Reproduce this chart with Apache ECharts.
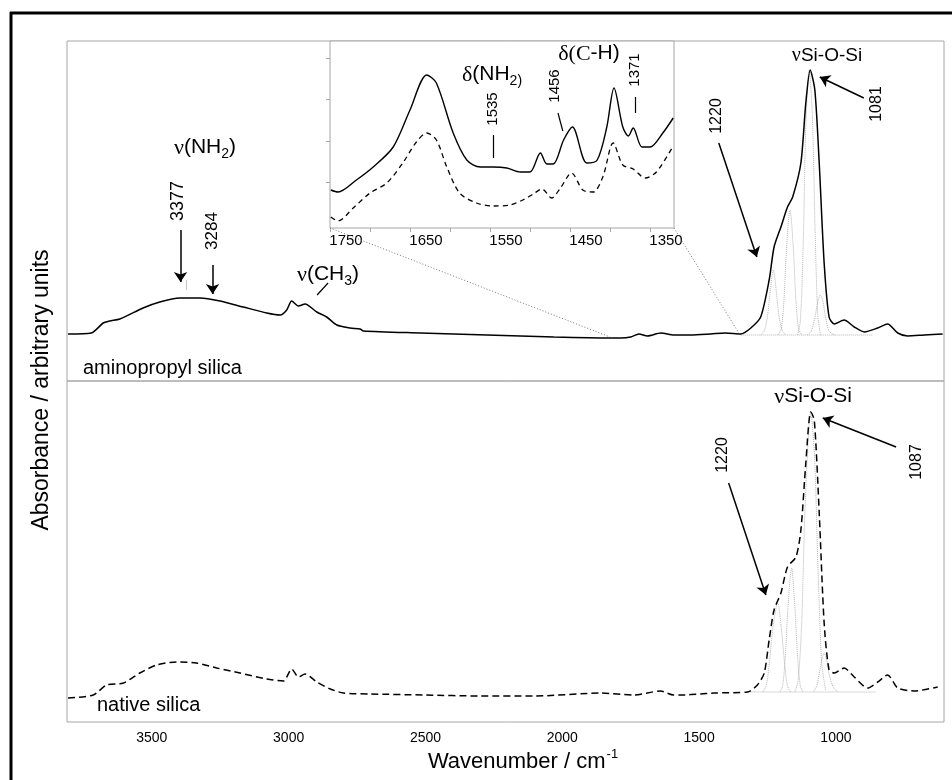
<!DOCTYPE html>
<html>
<head>
    <meta charset="utf-8">
    <title>FTIR aminopropyl silica vs native silica</title>
    <script src="https://cdn.jsdelivr.net/npm/echarts@6/dist/echarts.min.js"></script>
    <style>
        html, body { margin: 0; padding: 0; background: #fff; }
    </style>
</head>
<body>
    <div id="chart" style="width: 952px;height:780px;"></div>
    <script type="text/javascript">
        // wavenumber ticks
        var mainTicks = [1000, 1500, 2000, 2500, 3000, 3500];
        var insetLabels = [1350, 1450, 1550, 1650, 1750];
        var insetTicks = [1370, 1420, 1470, 1520, 1570, 1620, 1670, 1720, 1770];
        var insetYTicks = [46, 87, 129, 170];

        // aminopropyl silica, [wavenumber, absorbance (arb.)]
        var aminoSpectrum = [
            [3806, 47], [3721, 48], [3678, 58], [3654, 60], [3617, 62], [3532, 73], [3471, 79],
            [3398, 83], [3324, 83], [3251, 80], [3166, 74], [3080, 68], [3031, 66], [3007, 71],
            [2989, 80], [2964, 75], [2940, 77], [2897, 69], [2861, 64], [2824, 56], [2775, 53],
            [2739, 52], [2727, 50], [2519, 48], [2275, 46], [2031, 44], [1824, 43], [1787, 43],
            [1750, 44], [1720, 47], [1689, 45], [1640, 48], [1592, 46], [1531, 46], [1458, 47],
            [1403, 48], [1348, 47], [1311, 53], [1275, 64], [1244, 101], [1226, 134], [1201, 154],
            [1177, 174], [1158, 184], [1128, 218], [1110, 278], [1094, 311], [1077, 291],
            [1061, 218], [1043, 118], [1025, 64], [1006, 57], [970, 61], [933, 54], [896, 49],
            [847, 53], [811, 57], [774, 48], [738, 45], [677, 46], [610, 47]
        ];

        // native silica
        var nativeSpectrum = [
            [3806, 24], [3714, 27], [3665, 37], [3604, 39], [3544, 49], [3483, 57], [3410, 60],
            [3337, 59], [3263, 54], [3178, 49], [3080, 43], [3019, 41], [2989, 53], [2964, 45],
            [2940, 48], [2897, 40], [2848, 33], [2800, 29], [2700, 28], [2500, 27], [2300, 26],
            [2100, 26], [1860, 29], [1739, 27], [1641, 31], [1593, 27], [1567, 27], [1494, 28],
            [1446, 29], [1323, 30], [1287, 37], [1262, 49], [1244, 82], [1226, 112], [1201, 129],
            [1177, 155], [1146, 165], [1128, 192], [1110, 259], [1092, 310], [1079, 302],
            [1061, 209], [1043, 99], [1025, 52], [1006, 49], [970, 54], [933, 45], [884, 34],
            [847, 40], [811, 47], [774, 34], [713, 31], [628, 35]
        ];

        // fitted Si-O-Si components (dotted)
        var aminoBand1 = [[1275, 46], [1262, 50], [1250, 65], [1240, 90], [1229, 111], [1218, 90], [1208, 65], [1196, 50], [1183, 46]];
        var aminoBand2 = [[1212, 46], [1200, 52], [1190, 80], [1180, 135], [1168, 171], [1156, 135], [1146, 80], [1136, 52], [1124, 46]];
        var aminoBand3 = [[1140, 46], [1130, 60], [1120, 130], [1110, 255], [1098, 311], [1086, 265], [1076, 150], [1066, 65], [1056, 46]];
        var aminoBand4 = [[1105, 46], [1090, 50], [1075, 66], [1066, 80], [1057, 86], [1048, 80], [1038, 64], [1025, 50], [1005, 46]];
        var aminoBase = [[1348, 46], [865, 46]];

        var nativeBand1 = [[1268, 30], [1255, 36], [1243, 60], [1230, 95], [1213, 119], [1200, 95], [1188, 60], [1177, 36], [1166, 30]];
        var nativeBand2 = [[1205, 30], [1195, 36], [1185, 65], [1175, 115], [1162, 154], [1150, 115], [1140, 65], [1130, 36], [1120, 30]];
        var nativeBand3 = [[1150, 30], [1138, 42], [1125, 100], [1112, 220], [1092, 309], [1078, 265], [1065, 150], [1052, 60], [1038, 32]];
        var nativeBand4 = [[1082, 30], [1070, 36], [1060, 50], [1050, 64], [1043, 69], [1035, 64], [1025, 48], [1010, 35], [994, 30]];
        var nativeBase = [[1323, 30], [854, 30]];

        // inset 1770-1340 cm-1
        var insetAmino = [
            [1769, 38], [1760, 36], [1737, 48], [1716, 61], [1691, 81], [1670, 118], [1649, 153],
            [1637, 145], [1616, 95], [1599, 68], [1582, 61], [1566, 61], [1549, 60], [1532, 56],
            [1520, 56], [1507, 75], [1499, 64], [1491, 64], [1478, 88], [1467, 101], [1449, 65],
            [1436, 68], [1424, 101], [1415, 140], [1404, 101], [1397, 92], [1391, 100], [1380, 81],
            [1370, 81], [1354, 95], [1341, 110]
        ];
        var insetNative = [
            [1769, 11], [1760, 7], [1741, 20], [1720, 35], [1699, 45], [1679, 65], [1662, 86],
            [1649, 95], [1637, 88], [1624, 61], [1608, 35], [1587, 25], [1566, 22], [1545, 23],
            [1529, 28], [1516, 34], [1505, 39], [1493, 30], [1482, 40], [1468, 55], [1454, 38],
            [1441, 36], [1429, 51], [1416, 85], [1404, 63], [1391, 59], [1376, 50], [1362, 56],
            [1341, 82]
        ];

        var chart = echarts.init(document.getElementById('chart'));

        var sans = 'Liberation Sans';
        var serif = 'Liberation Serif';
        var frame = '#a6a6a6';
        var dotted = '#b4b4b4';

        function arrow(a, b) {
            return [{ coord: a }, { coord: b }];
        }
        function tick(a, b, color) {
            return [
                { coord: a, symbol: 'none', lineStyle: { color: color || '#000', width: 1.2, type: 'solid' } },
                { coord: b, symbol: 'none' }
            ];
        }
        function band(data, xi) {
            return {
                type: 'line', xAxisIndex: xi, yAxisIndex: xi, data: data, symbol: 'none',
                smooth: 0.3, silent: true, z: 1,
                lineStyle: { color: dotted, width: 1, type: [1, 1] }
            };
        }
        function vtext(x, y, t, size) {
            return {
                type: 'text', x: x, y: y, rotation: Math.PI / 2, z: 100,
                style: { text: t, fontFamily: sans, fontSize: size, fill: '#000', align: 'center', verticalAlign: 'middle' }
            };
        }
        function label(x, y, t, size, rich) {
            return {
                type: 'text', x: x, y: y, z: 100,
                style: { text: t, fontFamily: sans, fontSize: size, fill: '#000', align: 'center', verticalAlign: 'middle', rich: rich }
            };
        }
        function chem(size) {
            return {
                g: { fontFamily: serif, fontSize: size + 1, verticalAlign: 'top', lineHeight: size + 3, fill: '#000' },
                a: { fontFamily: sans, fontSize: size, verticalAlign: 'top', lineHeight: size + 3, fill: '#000' },
                s: { fontFamily: sans, fontSize: Math.round(size * 0.65), verticalAlign: 'bottom', lineHeight: 14, padding: [size - 11, 0, 0, 0], fill: '#000' }
            };
        }
        var plain = function (v) { return String(v); };

        var option = {
            animation: false,
            backgroundColor: '#fff',
            textStyle: { fontFamily: sans },
            grid: [
                { left: 67, right: 8, top: 41, height: 340, show: true, borderColor: frame, borderWidth: 1, containLabel: false, outerBoundsMode: 'none' },
                { left: 67, right: 8, top: 381, height: 341, show: true, borderColor: frame, borderWidth: 1, containLabel: false, outerBoundsMode: 'none' },
                { left: 330, top: 41, width: 344, height: 187, show: true, backgroundColor: '#fff', borderColor: frame, borderWidth: 1, containLabel: false, outerBoundsMode: 'none' }
            ],
            xAxis: [
                {
                    gridIndex: 0, type: 'value', inverse: true, min: 605, max: 3810,
                    axisLine: { show: false }, axisTick: { show: false }, axisLabel: { show: false }, splitLine: { show: false }
                },
                {
                    gridIndex: 1, type: 'value', inverse: true, min: 605, max: 3810,
                    axisLine: { show: false }, axisTick: { show: false }, splitLine: { show: false },
                    axisLabel: { customValues: mainTicks, formatter: plain, fontSize: 14, color: '#000', margin: 9 }
                },
                {
                    gridIndex: 2, type: 'value', inverse: true, min: 1340, max: 1770,
                    axisLine: { show: false }, splitLine: { show: false },
                    axisTick: { customValues: insetTicks, length: 4, lineStyle: { color: frame } },
                    axisLabel: { customValues: insetLabels, formatter: plain, fontSize: 15, color: '#000', margin: 5 }
                }
            ],
            yAxis: [
                { gridIndex: 0, type: 'value', min: 0, max: 340, show: false },
                { gridIndex: 1, type: 'value', min: 0, max: 341, show: false },
                {
                    gridIndex: 2, type: 'value', min: 0, max: 187,
                    axisLine: { show: false }, splitLine: { show: false }, axisLabel: { show: false },
                    axisTick: { customValues: insetYTicks, length: 4, lineStyle: { color: frame } }
                }
            ],
            series: [
                band(aminoBand1, 0), band(aminoBand2, 0), band(aminoBand3, 0), band(aminoBand4, 0),
                {
                    type: 'line', xAxisIndex: 0, yAxisIndex: 0, data: aminoBase, symbol: 'none', silent: true, z: 1,
                    lineStyle: { color: dotted, width: 1, type: [1, 1] },
                    markLine: {
                        silent: true, symbol: 'none', label: { show: false },
                        lineStyle: { type: 'solid' },
                        data: [tick([3375, 101], [3375, 91], '#c8c8c8')]
                    }
                },
                {
                    name: 'aminopropyl silica', type: 'line', xAxisIndex: 0, yAxisIndex: 0,
                    data: aminoSpectrum, symbol: 'none', smooth: 0.25, z: 2,
                    lineStyle: { color: '#000', width: 1.5 },
                    markLine: {
                        silent: true, symbol: ['none', 'arrow'], symbolSize: 10, label: { show: false },
                        lineStyle: { color: '#000', width: 1.5, type: 'solid' },
                        emphasis: { disabled: true },
                        data: [
                            arrow([3395, 151], [3395, 99]),
                            arrow([3278, 116], [3278, 87]),
                            arrow([898, 283], [1059, 304]),
                            arrow([1428, 238], [1289, 124]),
                            tick([2896, 86], [2856, 98])
                        ]
                    }
                },
                band(nativeBand1, 1), band(nativeBand2, 1), band(nativeBand3, 1), band(nativeBand4, 1),
                {
                    type: 'line', xAxisIndex: 1, yAxisIndex: 1, data: nativeBase, symbol: 'none', silent: true, z: 1,
                    lineStyle: { color: dotted, width: 1, type: [1, 1] }
                },
                {
                    name: 'native silica', type: 'line', xAxisIndex: 1, yAxisIndex: 1,
                    data: nativeSpectrum, symbol: 'none', smooth: 0.25, z: 2,
                    lineStyle: { color: '#000', width: 1.5, type: [7, 4] },
                    markLine: {
                        silent: true, symbol: ['none', 'arrow'], symbolSize: 10, label: { show: false },
                        lineStyle: { color: '#000', width: 1.5, type: 'solid' },
                        emphasis: { disabled: true },
                        data: [
                            arrow([780, 275], [1048, 304]),
                            arrow([1392, 239], [1256, 127])
                        ]
                    }
                },
                {
                    type: 'line', xAxisIndex: 2, yAxisIndex: 2, data: insetNative, symbol: 'none', smooth: 0.3, z: 4,
                    lineStyle: { color: '#000', width: 1.3, type: [5, 4] }
                },
                {
                    type: 'line', xAxisIndex: 2, yAxisIndex: 2, data: insetAmino, symbol: 'none', smooth: 0.3, z: 4,
                    lineStyle: { color: '#000', width: 1.4 },
                    markLine: {
                        silent: true, symbol: 'none', label: { show: false },
                        lineStyle: { color: '#000', width: 1.2, type: 'solid' },
                        emphasis: { disabled: true },
                        data: [
                            tick([1566, 93], [1566, 70]),
                            tick([1485, 115], [1479, 97]),
                            tick([1389, 131], [1389, 115])
                        ]
                    }
                }
            ],
            graphic: [
                // outer frame (top and left edges)
                { type: 'line', z: 100, shape: { x1: 10, y1: 13, x2: 952, y2: 13 }, style: { stroke: '#000', lineWidth: 3 } },
                { type: 'line', z: 100, shape: { x1: 11, y1: 12, x2: 11, y2: 780 }, style: { stroke: '#000', lineWidth: 3 } },
                // zoom connectors
                { type: 'line', z: 100, shape: { x1: 330, y1: 228, x2: 610, y2: 337 }, style: { stroke: '#777', lineWidth: 1, lineDash: [1, 2] } },
                { type: 'line', z: 100, shape: { x1: 674, y1: 228, x2: 740, y2: 335 }, style: { stroke: '#777', lineWidth: 1, lineDash: [1, 2] } },

                label(205, 149, '{g|ν}{a|(NH}{s|2}{a|)}', 21, chem(21)),
                vtext(178, 201, '3377', 18),
                vtext(212, 231, '3284', 17),
                label(328, 276, '{g|ν}{a|(CH}{s|3}{a|)}', 21, chem(21)),
                { type: 'text', x: 83, y: 368, z: 100, style: { text: 'aminopropyl silica', fontFamily: sans, fontSize: 20, fill: '#000', align: 'left', verticalAlign: 'middle' } },
                { type: 'text', x: 97, y: 705, z: 100, style: { text: 'native silica', fontFamily: sans, fontSize: 20, fill: '#000', align: 'left', verticalAlign: 'middle' } },

                label(492, 76, '{g|δ}{a|(NH}{s|2)}', 21, chem(21)),
                vtext(493, 109, '1535', 15),
                vtext(555, 86, '1456', 15),
                label(589, 55, '{g|δ(C}{a|-H)}', 21, chem(21)),
                vtext(635, 70, '1371', 15),

                label(827, 57, '{g|ν}{a|Si-O-Si}', 19, chem(19)),
                vtext(877, 104, '1081', 16),
                vtext(717, 116, '1220', 16),
                label(813, 398, '{g|ν}{a|Si-O-Si}', 21, chem(21)),
                vtext(917, 462, '1087', 16),
                vtext(723, 455, '1220', 16),

                vtext(42, 390, 'Absorbance / arbitrary units', 23),
                label(523, 760, '{a|Wavenumber / cm}{p|-1}', 22, {
                    a: { fontFamily: sans, fontSize: 22, fill: '#000', verticalAlign: 'bottom', lineHeight: 25 },
                    p: { fontFamily: sans, fontSize: 13, fill: '#000', verticalAlign: 'top', lineHeight: 13, padding: [0, 0, 12, 1] }
                })
            ]
        };

        chart.setOption(option);
    </script>
</body>
</html>
